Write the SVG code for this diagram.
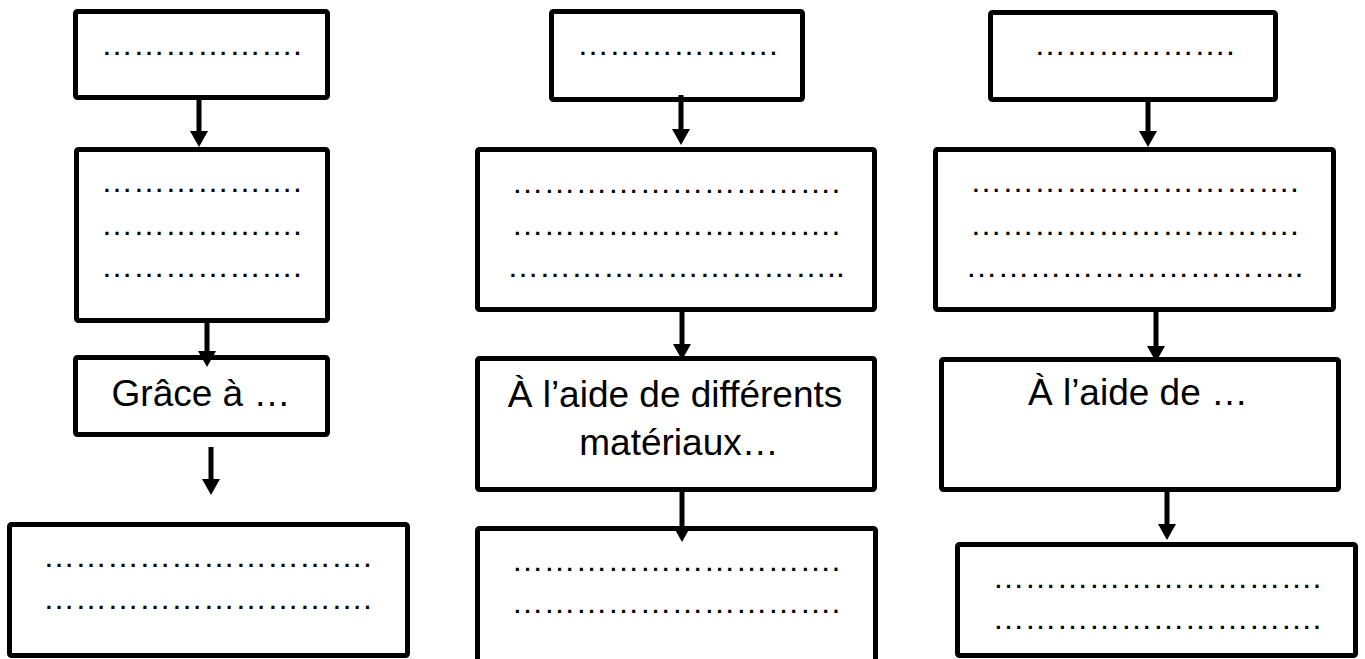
<svg xmlns="http://www.w3.org/2000/svg" width="1365" height="659" viewBox="0 0 1365 659">
<style>
.box{fill:#fff;stroke:#000;stroke-width:5;stroke-linejoin:round}
.dots{font-family:"Liberation Sans",Arial,sans-serif;font-size:32px;fill:#000;text-anchor:middle}
.lbl{font-family:"Liberation Sans",Arial,sans-serif;font-size:37px;fill:#000;text-anchor:middle}
.conn line{stroke:#000;stroke-width:5;marker-end:url(#ah)}
</style>
<defs>
<marker id="ah" markerUnits="userSpaceOnUse" markerWidth="16" markerHeight="18" viewBox="0 0 16 18" refX="4" refY="9" orient="auto">
<path d="M0,0 L16,9 L0,18 z" fill="#000"/>
</marker>
</defs>
<rect width="1365" height="659" fill="#fff"/>
<g id="n1a"><rect class="box" x="75.5" y="11.5" width="252" height="86" rx="2"/><text class="dots" x="201.5" y="54.5">&#8230;&#8230;&#8230;&#8230;&#8230;&#8230;.</text></g>
<g id="n1b"><rect class="box" x="76.5" y="149.5" width="251" height="171" rx="2"/>
<text class="dots" x="201.5" y="191.5">&#8230;&#8230;&#8230;&#8230;&#8230;&#8230;.</text>
<text class="dots" x="201.5" y="234.5">&#8230;&#8230;&#8230;&#8230;&#8230;&#8230;.</text>
<text class="dots" x="201.5" y="276.5">&#8230;&#8230;&#8230;&#8230;&#8230;&#8230;.</text></g>
<g id="n1c"><rect class="box" x="75.5" y="357.5" width="252" height="77" rx="2"/><text class="lbl" x="201" y="406">Grâce à …</text></g>
<g id="n1d"><rect class="box" x="9.5" y="524.5" width="398" height="131" rx="2"/>
<text class="dots" x="207.5" y="566.5">&#8230;&#8230;&#8230;&#8230;&#8230;&#8230;&#8230;&#8230;&#8230;&#8230;.</text>
<text class="dots" x="207.5" y="608.5">&#8230;&#8230;&#8230;&#8230;&#8230;&#8230;&#8230;&#8230;&#8230;&#8230;.</text></g>

<g id="n2a"><rect class="box" x="551.5" y="11.5" width="251" height="88" rx="2"/><text class="dots" x="677.5" y="54.5">&#8230;&#8230;&#8230;&#8230;&#8230;&#8230;.</text></g>
<g id="n2b"><rect class="box" x="477.5" y="149.5" width="397" height="160" rx="2"/>
<text class="dots" x="676" y="192.5">&#8230;&#8230;&#8230;&#8230;&#8230;&#8230;&#8230;&#8230;&#8230;&#8230;.</text>
<text class="dots" x="676" y="234.5">&#8230;&#8230;&#8230;&#8230;&#8230;&#8230;&#8230;&#8230;&#8230;&#8230;.</text>
<text class="dots" x="676" y="276.5">&#8230;&#8230;&#8230;&#8230;&#8230;&#8230;&#8230;&#8230;&#8230;&#8230;..</text></g>
<g id="n2c"><rect class="box" x="477.5" y="358.5" width="397" height="131" rx="2"/>
<text class="lbl" x="675" y="407">À l’aide de différents</text>
<text class="lbl" x="679" y="455">matériaux…</text></g>
<g id="n2d"><rect class="box" x="477.5" y="528.5" width="398" height="140" rx="2"/>
<text class="dots" x="676" y="570.5">&#8230;&#8230;&#8230;&#8230;&#8230;&#8230;&#8230;&#8230;&#8230;&#8230;.</text>
<text class="dots" x="676" y="612.5">&#8230;&#8230;&#8230;&#8230;&#8230;&#8230;&#8230;&#8230;&#8230;&#8230;.</text></g>

<g id="n3a"><rect class="box" x="990.5" y="12.5" width="285" height="87" rx="2"/><text class="dots" x="1134.5" y="54.5">&#8230;&#8230;&#8230;&#8230;&#8230;&#8230;.</text></g>
<g id="n3b"><rect class="box" x="935.5" y="149.5" width="398" height="160" rx="2"/>
<text class="dots" x="1134.5" y="191.5">&#8230;&#8230;&#8230;&#8230;&#8230;&#8230;&#8230;&#8230;&#8230;&#8230;.</text>
<text class="dots" x="1134.5" y="234.5">&#8230;&#8230;&#8230;&#8230;&#8230;&#8230;&#8230;&#8230;&#8230;&#8230;.</text>
<text class="dots" x="1134.5" y="276.5">&#8230;&#8230;&#8230;&#8230;&#8230;&#8230;&#8230;&#8230;&#8230;&#8230;..</text></g>
<g id="n3c"><rect class="box" x="941.5" y="359.5" width="397" height="130" rx="2"/><text class="lbl" x="1138" y="405">À l’aide de …</text></g>
<g id="n3d"><rect class="box" x="957.5" y="544.5" width="398" height="111" rx="2"/>
<text class="dots" x="1157" y="587.5">&#8230;&#8230;&#8230;&#8230;&#8230;&#8230;&#8230;&#8230;&#8230;&#8230;.</text>
<text class="dots" x="1157" y="628.5">&#8230;&#8230;&#8230;&#8230;&#8230;&#8230;&#8230;&#8230;&#8230;&#8230;.</text></g>

<g id="connectors" class="conn">
<line x1="199" y1="100" x2="199" y2="135"/>
<line x1="207" y1="323" x2="207" y2="355"/>
<line x1="211" y1="447" x2="211" y2="483"/>
<line x1="681" y1="95" x2="681" y2="133"/>
<line x1="682" y1="312" x2="682" y2="348"/>
<line x1="682" y1="492" x2="682" y2="530"/>
<line x1="1148" y1="102" x2="1148" y2="135"/>
<line x1="1156" y1="312" x2="1156" y2="350"/>
<line x1="1167" y1="492" x2="1167" y2="528"/>
</g>
</svg>
